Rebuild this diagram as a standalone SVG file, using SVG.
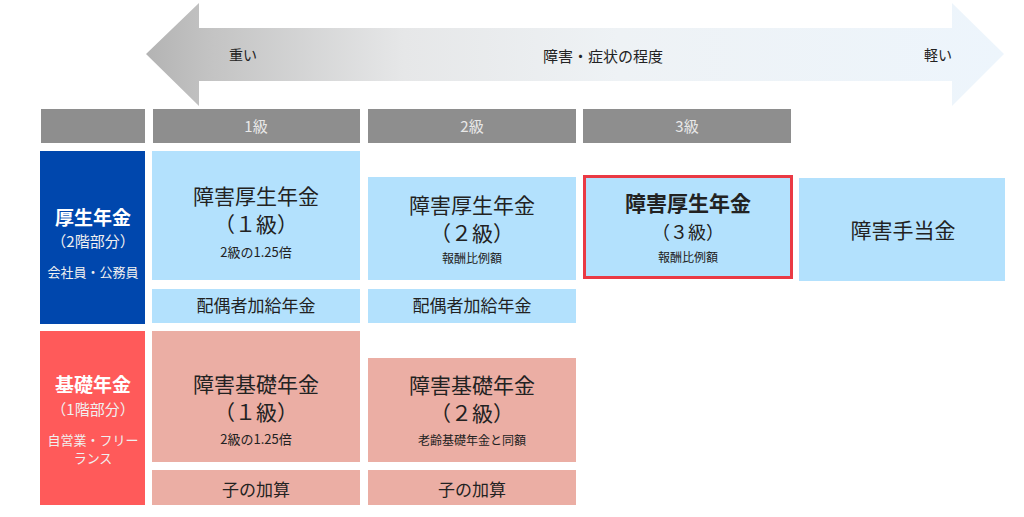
<svg xmlns="http://www.w3.org/2000/svg" width="1024" height="517" viewBox="0 0 1024 517">
<defs>
<linearGradient id="ag" x1="146" y1="0" x2="1004" y2="0" gradientUnits="userSpaceOnUse">
<stop offset="0" stop-color="#b3b3b3"/>
<stop offset="0.08" stop-color="#c4c4c4"/>
<stop offset="0.3" stop-color="#e6e7e8"/>
<stop offset="0.55" stop-color="#eef2f5"/>
<stop offset="1" stop-color="#edf5fc"/>
</linearGradient>
</defs>
<style>
text{font-family:"Noto Sans CJK JP","Noto Sans",sans-serif;text-anchor:middle;fill:#222}
.hd{fill:#8e8e8e}
.ht{fill:#e8e8e8;font-size:15px}
.lb{fill:#b3e1fd}
.pk{fill:#ebaea4}
.big{font-size:21px}
.mid{font-size:17px}
.sm{font-size:13px}
.xs{font-size:12px}
.w{fill:#fff}
.wl{fill:#f0f0f0}
.b{font-weight:bold}
</style>
<rect width="1024" height="517" fill="#fff"/>
<g id="arrow">
<path d="M146,54 L199,3 L199,28 L952,28 L952,3 L1004,54 L952,106 L952,81 L199,81 L199,106 Z" fill="url(#ag)"/>
<text x="243" y="60" style="font-size:14px">重い</text>
<text x="603" y="62" style="font-size:15px">障害・症状の程度</text>
<text x="938" y="60" style="font-size:14px">軽い</text>
</g>
<g id="headers">
<rect class="hd" x="41" y="109" width="104" height="34"/>
<rect class="hd" x="153" y="109" width="207" height="34"/>
<text class="ht" x="256" y="132">1級</text>
<rect class="hd" x="368" y="109" width="208" height="34"/>
<text class="ht" x="472" y="132">2級</text>
<rect class="hd" x="583" y="109" width="208" height="34"/>
<text class="ht" x="687" y="132">3級</text>
</g>
<g id="kosei">
<rect x="40" y="151" width="105" height="173" fill="#0047ad"/>
<text class="w b" x="93" y="225" style="font-size:19px">厚生年金</text>
<text class="wl" x="93" y="247" style="font-size:15px">（2階部分）</text>
<text class="wl" x="93" y="277" style="font-size:13px">会社員・公務員</text>
</g>
<g id="kosei1">
<rect class="lb" x="152" y="151" width="208" height="129"/>
<text class="big" x="256" y="204">障害厚生年金</text>
<text class="big" x="256" y="232">（１級）</text>
<text class="sm" x="256" y="257">2級の1.25倍</text>
</g>
<g id="haigu1">
<rect class="lb" x="152" y="289" width="208" height="34"/>
<text class="mid" x="256" y="312">配偶者加給年金</text>
</g>
<g id="kosei2">
<rect class="lb" x="368" y="177" width="208" height="103"/>
<text class="big" x="472" y="213">障害厚生年金</text>
<text class="big" x="472" y="241">（２級）</text>
<text class="xs" x="472" y="263">報酬比例額</text>
</g>
<g id="haigu2">
<rect class="lb" x="368" y="289" width="208" height="34"/>
<text class="mid" x="472" y="312">配偶者加給年金</text>
</g>
<g id="kosei3">
<rect class="lb" x="584.5" y="176.5" width="207" height="101" stroke="#ea3a44" stroke-width="3"/>
<text class="big b" x="688" y="211">障害厚生年金</text>
<text x="688" y="239" style="font-size:18px">（３級）</text>
<text class="xs" x="688" y="262">報酬比例額</text>
</g>
<g id="teate">
<rect class="lb" x="799" y="178" width="206" height="103"/>
<text class="big" x="903" y="238">障害手当金</text>
</g>
<g id="kiso">
<rect x="40" y="331" width="105" height="174" fill="#ff5a5a"/>
<text class="w b" x="93" y="392" style="font-size:19px">基礎年金</text>
<text class="wl" x="93" y="415" style="font-size:15px">（1階部分）</text>
<text class="wl" x="93" y="445" style="font-size:13px">自営業・フリー</text>
<text class="wl" x="93" y="463" style="font-size:13px">ランス</text>
</g>
<g id="kiso1">
<rect class="pk" x="152" y="331" width="208" height="131"/>
<text class="big" x="256" y="392">障害基礎年金</text>
<text class="big" x="256" y="420">（１級）</text>
<text class="sm" x="256" y="444">2級の1.25倍</text>
</g>
<g id="ko1">
<rect class="pk" x="152" y="470" width="208" height="35"/>
<text class="mid" x="256" y="496">子の加算</text>
</g>
<g id="kiso2">
<rect class="pk" x="368" y="358" width="208" height="104"/>
<text class="big" x="472" y="393">障害基礎年金</text>
<text class="big" x="472" y="421">（２級）</text>
<text class="xs" x="472" y="445">老齢基礎年金と同額</text>
</g>
<g id="ko2">
<rect class="pk" x="368" y="470" width="208" height="35"/>
<text class="mid" x="472" y="496">子の加算</text>
</g>
<g id="connectors"/>
</svg>
